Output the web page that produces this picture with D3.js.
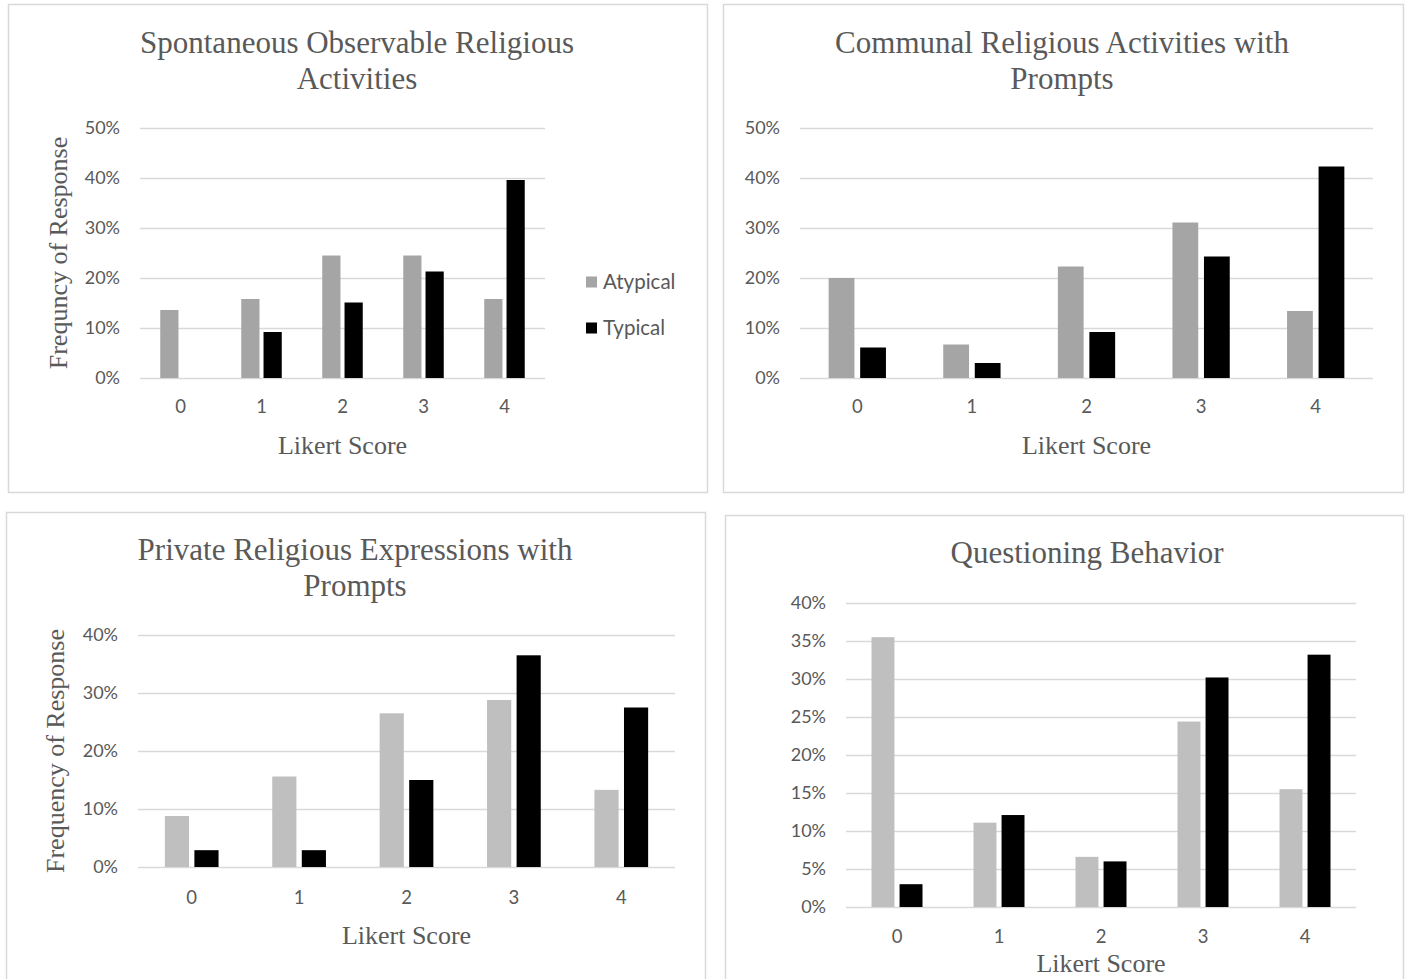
<!DOCTYPE html>
<html>
<head>
<meta charset="utf-8">
<script src="https://cdn.jsdelivr.net/npm/d3@7"></script>
<style>
  html, body { margin: 0; padding: 0; background: #ffffff; }
  svg { display: block; }
</style>
</head>
<body>
<svg id="chart" width="1410" height="979"></svg>
<script>
// Likert categories and the two respondent groups
const categories = ["0", "1", "2", "3", "4"];
const seriesNames = ["Atypical", "Typical"];

// Frequency of response (%) per Likert score
const spontaneousAtypical = [13.6, 15.8, 24.5, 24.5, 15.8];
const spontaneousTypical  = [0, 9.2, 15.1, 21.3, 39.6];
const communalAtypical    = [20.0, 6.7, 22.3, 31.1, 13.4];
const communalTypical     = [6.1, 3.0, 9.2, 24.3, 42.3];
const privateAtypical     = [8.8, 15.6, 26.5, 28.8, 13.3];
const privateTypical      = [2.9, 2.9, 15.0, 36.5, 27.5];
const questioningAtypical = [35.5, 11.1, 6.6, 24.4, 15.5];
const questioningTypical  = [3.0, 12.1, 6.0, 30.2, 33.2];

// Axis tick values (%)
const ticksTo50By10 = [0, 10, 20, 30, 40, 50];
const ticksTo40By10 = [0, 10, 20, 30, 40];
const ticksTo40By5  = [0, 5, 10, 15, 20, 25, 30, 35, 40];

// Panel titles
const titleSpontaneous = ["Spontaneous Observable Religious", "Activities"];
const titleCommunal    = ["Communal Religious Activities with", "Prompts"];
const titlePrivate     = ["Private Religious Expressions with", "Prompts"];
const titleQuestioning = ["Questioning Behavior"];

const SERIF = "'Liberation Serif', 'Times New Roman', serif";
const SANS = "Lato, 'Open Sans', sans-serif";
const TEXT = "#595959";
const GRID = "#d9d9d9";

const panels = [
  {
    frame: { x: 8.5, y: 4.5, w: 699, h: 488 },
    title: titleSpontaneous, titleX: 357, titleY: 53,
    plot: { x0: 140, x1: 545, y0: 378, y1: 128 },
    ticks: ticksTo50By10, yMax: 50,
    values: [spontaneousAtypical, spontaneousTypical],
    gray: "#a5a5a5",
    yTitle: "Frequncy of Response", yTitleX: 58,
    xTickY: 407, xTitleY: 445,
    legend: { x: 586, y: 282, step: 46 }
  },
  {
    frame: { x: 723.5, y: 4.5, w: 680, h: 488 },
    title: titleCommunal, titleX: 1062, titleY: 53,
    plot: { x0: 800, x1: 1373, y0: 378, y1: 128 },
    ticks: ticksTo50By10, yMax: 50,
    values: [communalAtypical, communalTypical],
    gray: "#a5a5a5",
    yTitle: null,
    xTickY: 407, xTitleY: 445,
    legend: null
  },
  {
    frame: { x: 6.5, y: 512.5, w: 699, h: 480 },
    title: titlePrivate, titleX: 355, titleY: 560,
    plot: { x0: 138, x1: 675, y0: 867, y1: 635 },
    ticks: ticksTo40By10, yMax: 40,
    values: [privateAtypical, privateTypical],
    gray: "#bfbfbf",
    yTitle: "Frequency of Response", yTitleX: 55,
    xTickY: 898, xTitleY: 935,
    legend: null
  },
  {
    frame: { x: 725.5, y: 515.5, w: 678, h: 480 },
    title: titleQuestioning, titleX: 1087, titleY: 563,
    plot: { x0: 846, x1: 1356, y0: 907, y1: 603 },
    ticks: ticksTo40By5, yMax: 40,
    values: [questioningAtypical, questioningTypical],
    gray: "#bfbfbf",
    yTitle: null,
    xTickY: 937, xTitleY: 963,
    legend: null
  }
];

const svg = d3.select("#chart");

panels.forEach(p => {
  const g = svg.append("g");

  // chart frame
  g.append("rect")
    .attr("x", p.frame.x).attr("y", p.frame.y)
    .attr("width", p.frame.w).attr("height", p.frame.h)
    .attr("fill", "#ffffff").attr("stroke", GRID).attr("stroke-width", 1.5);

  // title
  const title = g.append("text")
    .attr("x", p.titleX).attr("y", p.titleY)
    .attr("text-anchor", "middle")
    .attr("font-family", SERIF).attr("font-size", 31)
    .attr("fill", TEXT);
  p.title.forEach((line, i) => {
    title.append("tspan").attr("x", p.titleX).attr("dy", i === 0 ? 0 : 35.5).text(line);
  });

  const x = d3.scaleBand().domain(categories).range([p.plot.x0, p.plot.x1]).paddingInner(0).paddingOuter(0);
  const inner = d3.scaleBand().domain(seriesNames)
    .range([x.bandwidth() * 0.25, x.bandwidth() * 0.75])
    .paddingInner(0.182).paddingOuter(0);
  const y = d3.scaleLinear().domain([0, p.yMax]).range([p.plot.y0, p.plot.y1]);

  // gridlines and percentage labels
  const yAxis = d3.axisLeft(y).tickValues(p.ticks)
    .tickSize(-(p.plot.x1 - p.plot.x0)).tickPadding(20)
    .tickFormat(d => d + "%");
  const ya = g.append("g").attr("transform", `translate(${p.plot.x0},0)`).call(yAxis);
  ya.select(".domain").remove();
  ya.selectAll(".tick line").attr("stroke", GRID).attr("stroke-width", 1.5);
  ya.selectAll(".tick text")
    .attr("font-family", SANS).attr("font-size", 18).attr("fill", TEXT);

  // category labels
  const xAxis = d3.axisBottom(x).tickSize(0).tickPadding(0);
  const xa = g.append("g").attr("transform", `translate(0,${p.xTickY})`).call(xAxis);
  xa.select(".domain").remove();
  xa.selectAll(".tick text")
    .attr("dy", "0.35em")
    .attr("font-family", SANS).attr("font-size", 18.5).attr("fill", TEXT);

  // bars
  const colors = d3.scaleOrdinal().domain(seriesNames).range([p.gray, "#000000"]);
  const rows = categories.map((c, i) => ({
    cat: c,
    items: seriesNames.map((s, k) => ({ series: s, value: p.values[k][i] }))
  }));
  g.append("g").selectAll("g").data(rows).join("g")
    .attr("transform", d => `translate(${x(d.cat)},0)`)
    .selectAll("rect").data(d => d.items).join("rect")
    .attr("x", d => inner(d.series))
    .attr("width", inner.bandwidth())
    .attr("y", d => y(d.value))
    .attr("height", d => y(0) - y(d.value))
    .attr("fill", d => colors(d.series));

  // axis titles
  g.append("text")
    .attr("x", (p.plot.x0 + p.plot.x1) / 2).attr("y", p.xTitleY)
    .attr("dy", "0.35em").attr("text-anchor", "middle")
    .attr("font-family", SERIF).attr("font-size", 26).attr("fill", TEXT)
    .text("Likert Score");

  if (p.yTitle) {
    const cy = (p.plot.y0 + p.plot.y1) / 2;
    g.append("text")
      .attr("transform", `translate(${p.yTitleX},${cy}) rotate(-90)`)
      .attr("dy", "0.35em").attr("text-anchor", "middle")
      .attr("font-family", SERIF).attr("font-size", 26).attr("fill", TEXT)
      .text(p.yTitle);
  }

  // legend
  if (p.legend) {
    const lg = g.append("g").selectAll("g").data(seriesNames).join("g")
      .attr("transform", (d, i) => `translate(${p.legend.x},${p.legend.y + i * p.legend.step})`);
    lg.append("rect").attr("x", 0).attr("y", -5.5).attr("width", 11).attr("height", 11)
      .attr("fill", d => colors(d));
    lg.append("text").attr("x", 17).attr("dy", "0.35em")
      .attr("font-family", SANS).attr("font-size", 20.5).attr("fill", TEXT)
      .text(d => d);
  }
});
</script>
</body>
</html>
